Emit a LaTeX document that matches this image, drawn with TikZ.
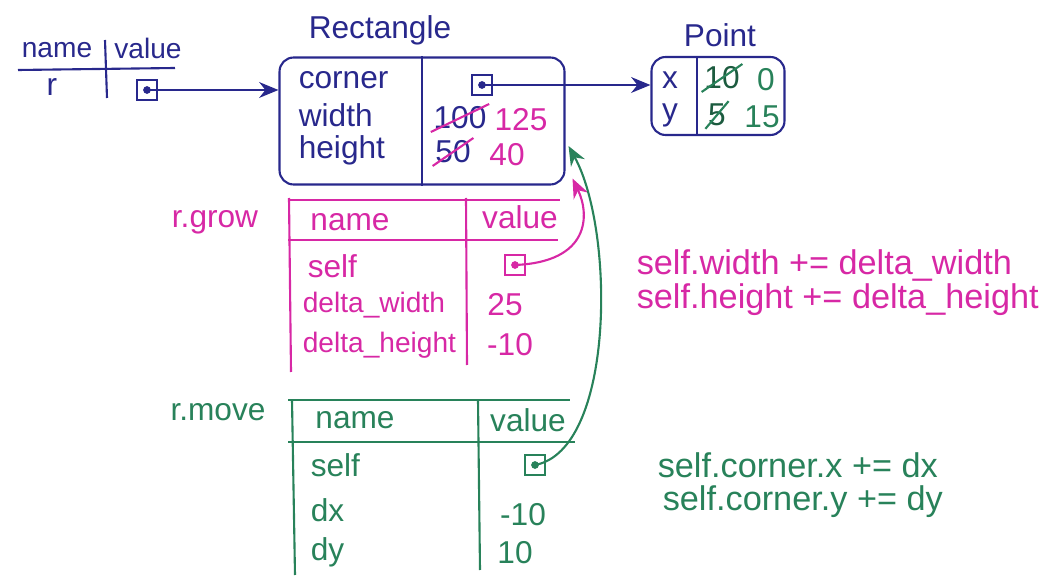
\documentclass[tikz,border=0pt]{standalone}
\usepackage{fontspec}
\setmainfont{Liberation Sans}
\usepackage{tikz}
\usetikzlibrary{positioning,arrows.meta}

\definecolor{inkblue}{RGB}{40,40,140}
\definecolor{inkpink}{RGB}{215,40,165}
\definecolor{inkgreen}{RGB}{40,130,90}

\tikzset{
  txt/.style={inner sep=1pt, font=\fontsize{18}{21}\selectfont},
  small/.style={inner sep=1pt, font=\fontsize{16}{19}\selectfont},
  code/.style={inner sep=1pt, anchor=west, font=\fontsize{19.5}{22}\selectfont},
  ptr/.style={draw, minimum size=0.4cm, inner sep=0pt},
  frame/.style={draw, rounded corners=8pt},
}

\begin{document}
\begin{tikzpicture}[x=0.02cm, y=-0.02cm, line width=1.2pt, >={Stealth[length=11pt,width=9pt]}]
        \useasboundingbox (0,0) rectangle (1041,577);

        % global frame: r
        \begin{scope}[inkblue]
        \node[small] (gname) at (57,50) {name};
        \node[small] (gvalue) at (148,48) {value};
        \node[txt] (gr) at (52,87) {r};
        \draw (18,70) -- (175,68);
        \draw (105,40) -- (107,98);
        \node[ptr] (gp) at (147,90) {};
        \fill (gp) circle (2.2pt);
        \end{scope}

        % Rectangle object
        \begin{scope}[inkblue]
        \node[txt] (rlabel) at (380,30) {Rectangle};
        \node[frame, minimum width=5.7cm, minimum height=2.54cm] (rect) at (422,121) {};
        \draw (rect.north) -- (rect.south);
        \node[txt, anchor=west] (corner) at (296,80) {corner};
        \node[txt, anchor=west] (width) at (296,115) {width};
        \node[txt, anchor=west] (height) at (296,150) {height};
        \node[ptr] (rp) at (482,85) {};
        \fill (rp) circle (2.2pt);
        \node[txt] (wold) at (460,118) {100};
        \node[txt] (hold) at (453,152) {50};
        \end{scope}
        \node[txt, inkpink] (wnew) at (521,120) {125};
        \node[txt, inkpink] (hnew) at (507,155) {40};
        \draw[inkpink] (wold.south west) -- (wold.north east);
        \draw[inkpink] (hold.south west) -- (hold.north east);

        % Point object
        \begin{scope}[inkblue]
        \node[txt] (plabel) at (720,35) {Point};
        \node[frame, minimum width=2.66cm, minimum height=1.56cm] (point) at (718,96) {};
        \draw (697,57) -- (697,135);
        \node[txt] (px) at (670,80) {x};
        \node[txt] (py) at (670,115) {y};
        \end{scope}
        \node[txt, inkgreen!70!black] (xold) at (722,78) {10};
        \node[txt, inkgreen!70!black] (yold) at (717,115) {5};
        \node[txt, inkgreen] (xnew) at (766,80) {0};
        \node[txt, inkgreen] (ynew) at (762,117) {15};
        \draw[inkgreen] (xold.south west) -- (xold.north east);
        \draw[inkgreen] (yold.south west) -- (yold.north east);

        \draw[->, inkblue] (gp.center) -- (rect.west |- gp);
        \draw[->, inkblue] (rp.center) -- (point.west |- rp);

        % frame of r.grow
        \begin{scope}[inkpink]
        \node[txt] (glabel) at (215,222) {r.grow};
        \draw (288,200) -- (560,200);
        \draw (288,240) -- (558,240);
        \draw (289,198) -- (291,372);
        \draw (466,198) -- (467,365);
        \node[txt] (gnh) at (350,222) {name};
        \node[txt] (gvh) at (520,217) {value};
        \node[txt, anchor=west] (gself) at (305,266) {self};
        \node[small, anchor=west] (gdw) at (300,305) {delta\_width};
        \node[small, anchor=west] (gdh) at (300,345) {delta\_height};
        \node[ptr] (gsp) at (515,265) {};
        \fill (gsp) circle (2.2pt);
        \node[txt] (gdwv) at (505,305) {25};
        \node[txt] (gdhv) at (510,345) {-10};
        \draw[->] (gsp.center) .. controls (590,262) and (590,215) .. ([shift={(7,-7)}]rect.south east);
        \node[code] (gcode1) at (634,265) {self.width += delta\_width};
        \node[code] (gcode2) at (634,300) {self.height += delta\_height};
        \end{scope}

        % frame of r.move
        \begin{scope}[inkgreen]
        \node[txt] (mlabel) at (218,412) {r.move};
        \draw (288,400) -- (570,400);
        \draw (288,442) -- (575,442);
        \draw (292,400) -- (295,575);
        \draw (478,400) -- (480,570);
        \node[txt] (mnh) at (355,420) {name};
        \node[txt] (mvh) at (528,420) {value};
        \node[txt, anchor=west] (mself) at (308,465) {self};
        \node[txt, anchor=west] (mdx) at (308,510) {dx};
        \node[txt, anchor=west] (mdy) at (308,552) {dy};
        \node[ptr] (msp) at (535,465) {};
        \fill (msp) circle (2.2pt);
        \node[txt] (mdxv) at (523,515) {-10};
        \node[txt] (mdyv) at (515,553) {10};
        \draw[->] (msp.center) .. controls (615,450) and (615,230) .. ([shift={(3,25)}]rect.east);
        \node[code] (mcode1) at (655,465) {self.corner.x += dx};
        \node[code] (mcode2) at (660,502) {self.corner.y += dy};
        \end{scope}
    \end{tikzpicture}
\end{document}
